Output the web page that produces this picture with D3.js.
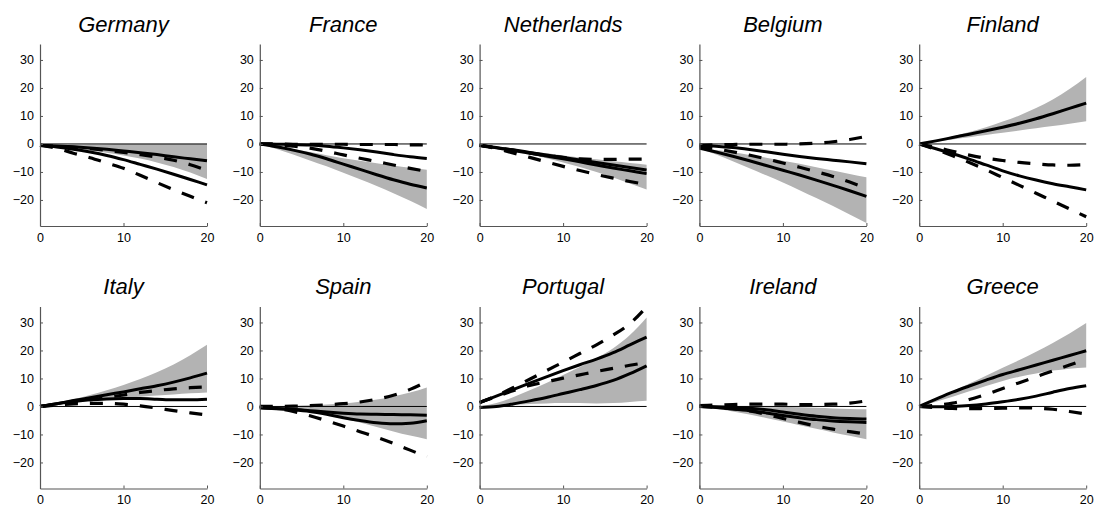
<!DOCTYPE html>
<html>
<head>
<meta charset="utf-8">
<script src="https://cdn.jsdelivr.net/npm/d3@7"></script>
<style>
  html, body { margin: 0; padding: 0; background: #fff; }
  svg { display: block; }
  text { font-family: "Liberation Sans", Arial, Helvetica, sans-serif; fill: #000; }
</style>
</head>
<body>
<svg id="chart" width="1096" height="508"></svg>
<script>
// Impulse responses by country, horizon 0..20 (sampled every 2 periods)
const countries = ["Germany", "France", "Netherlands", "Belgium", "Finland",
                   "Italy", "Spain", "Portugal", "Ireland", "Greece"];
const horizon = [0, 2, 4, 6, 8, 10, 12, 14, 16, 18, 20];
const xTicks = [0, 10, 20];
const yTicks = [-20, -10, 0, 10, 20, 30];

// Upper and lower edge of the shaded confidence band
const bandUpper = [
  [-0.5, -0.4, -0.3, -0.2, -0.1, 0, 0, 0, 0, 0, 0],
  [0, -0.8, -1.8, -2.9, -4, -5.1, -6, -6.9, -7.7, -8.5, -9.2],
  [-0.5, -1.1, -1.8, -2.6, -3.3, -4.1, -4.8, -5.5, -6.2, -6.8, -7.4],
  [-1.5, -2.2, -3, -3.9, -4.9, -6, -7.1, -8.3, -9.5, -10.7, -11.9],
  [0, 1.3, 2.7, 4.3, 6, 8, 10.2, 12.8, 15.9, 19.6, 23.9],
  [0, 1.2, 2.6, 4.1, 5.8, 7.7, 9.8, 12.2, 15, 18.3, 22],
  [0, 0.1, 0.2, 0.4, 0.7, 1.1, 1.7, 2.5, 3.6, 5, 6.8],
  [0, 1.2, 3.3, 5.8, 8.4, 11.2, 14.1, 17.2, 20.8, 25.5, 31.8],
  [0, -0.1, -0.2, -0.3, -0.3, -0.2, -0.3, -0.5, -0.7, -0.9, -1],
  [0, 2.6, 5.4, 8.2, 11, 13.8, 16.6, 19.5, 22.7, 26.1, 29.8]
];
const bandLower = [
  [-0.5, -1, -1.6, -2.3, -3.1, -4.1, -5.2, -6.6, -8.2, -10.2, -12.5],
  [0, -1.8, -3.8, -5.9, -8, -10.3, -12.6, -15, -17.6, -20.3, -23.2],
  [-0.5, -1.5, -2.6, -3.8, -5.1, -6.6, -8.2, -10, -12, -14.1, -16.3],
  [-1.5, -3.8, -6.2, -8.7, -11.2, -13.8, -16.5, -19.3, -22.2, -25.2, -28.2],
  [0, 0.8, 1.6, 2.4, 3.2, 4, 4.8, 5.6, 6.4, 7.2, 8.1],
  [0, 0.8, 1.5, 2.1, 2.6, 3.1, 3.5, 3.9, 4.3, 4.7, 5],
  [0, -0.4, -1, -1.9, -3, -4.3, -5.7, -7.3, -8.9, -10.4, -11.7],
  [0, 0.3, 0.6, 0.9, 1.1, 1.2, 1.2, 1.1, 1.2, 1.6, 2],
  [0, -0.8, -1.8, -2.9, -4.1, -5.4, -6.7, -8, -9.3, -10.5, -11.7],
  [0, 1.7, 3.5, 5.4, 7.3, 9.1, 10.6, 11.8, 12.8, 13.5, 13.9]
];

// Two solid responses per country
const solidFirst = [
  [-0.5, -0.7, -1, -1.4, -1.9, -2.5, -3.1, -3.8, -4.6, -5.3, -6],
  [0, -0.1, -0.2, -0.4, -0.8, -1.4, -2.1, -2.9, -3.8, -4.6, -5.2],
  [-0.5, -1.3, -2.1, -3, -3.9, -4.8, -5.7, -6.6, -7.5, -8.4, -9.3],
  [-0.5, -0.8, -1.3, -2, -2.8, -3.7, -4.5, -5.2, -5.8, -6.4, -7.1],
  [0, 1.1, 2.3, 3.5, 4.7, 6, 7.4, 9, 10.8, 12.7, 14.6],
  [0, 1, 2.1, 3.1, 4.2, 5.2, 6.3, 7.4, 8.7, 10.2, 11.9],
  [-0.5, -0.7, -1, -1.5, -2, -2.4, -2.7, -2.8, -2.9, -3, -3.1],
  [1.4, 3.7, 6, 8.3, 10.6, 12.8, 14.9, 16.9, 19.2, 22, 24.8],
  [0, -0.1, -0.3, -0.6, -1.2, -2, -2.8, -3.5, -4, -4.3, -4.5],
  [0, 2.6, 5.1, 7.3, 9.4, 11.4, 13.1, 14.8, 16.5, 18.2, 19.9]
];
const solidSecond = [
  [-0.5, -1.1, -1.9, -2.9, -4.1, -5.6, -7.3, -9, -10.8, -12.7, -14.6],
  [0, -1, -2.2, -3.6, -5.3, -7.2, -9.1, -11, -12.8, -14.4, -15.7],
  [-0.5, -1.4, -2.3, -3.3, -4.3, -5.3, -6.4, -7.5, -8.6, -9.6, -10.6],
  [-1.5, -2.9, -4.4, -6, -7.7, -9.4, -11.1, -12.9, -14.8, -16.7, -18.7],
  [0, -1.7, -3.5, -5.4, -7.5, -9.6, -11.4, -12.9, -14.2, -15.3, -16.4],
  [0, 1, 1.8, 2.4, 2.7, 2.8, 2.8, 2.6, 2.4, 2.4, 2.6],
  [-0.5, -0.8, -1.2, -1.8, -2.8, -4, -5, -5.8, -6.2, -6, -5.1],
  [-0.4, 0, 0.9, 2, 3.2, 4.6, 6, 7.5, 9.3, 11.7, 14.5],
  [0, -0.4, -0.9, -1.5, -2.3, -3.2, -4, -4.7, -5.2, -5.5, -5.7],
  [0, -0.1, 0, 0.3, 0.9, 1.7, 2.6, 3.7, 5.1, 6.4, 7.4]
];

// Two dashed responses per country
const dashedFirst = [
  [-0.5, -0.8, -1.2, -1.7, -2.3, -3, -3.8, -4.7, -5.8, -7.4, -9.4],
  [0, 0, -0.1, -0.1, -0.1, -0.1, -0.2, -0.2, -0.2, -0.3, -0.4],
  [-0.5, -1.3, -2.2, -3.2, -4.1, -4.8, -5.3, -5.5, -5.5, -5.4, -5.4],
  [-0.5, -0.3, -0.2, -0.1, -0.1, -0.1, 0, 0.3, 0.8, 1.6, 2.7],
  [0, -1.2, -2.6, -4, -5.1, -5.9, -6.6, -7.1, -7.5, -7.6, -7.4],
  [0, 0.6, 1.4, 2.3, 3.2, 4.1, 5, 5.7, 6.3, 6.7, 7],
  [0, 0, 0.1, 0.3, 0.6, 1, 1.6, 2.6, 4, 6.1, 8.9],
  [1.4, 3.8, 6.7, 9.7, 12.8, 15.8, 18.9, 22, 25.5, 29.6, 35.6],
  [0.3, 0.5, 0.7, 0.8, 0.8, 0.8, 0.7, 0.7, 0.8, 1.2, 2],
  [0, 0.4, 1.2, 2.5, 4.3, 6.4, 8.5, 10.6, 12.7, 14.8, 16.9]
];
const dashedSecond = [
  [-0.5, -1.5, -3.3, -4.9, -6.8, -8.7, -11.2, -13.8, -16.3, -18.7, -21],
  [0, -0.3, -0.8, -1.5, -2.6, -3.9, -5.1, -6.3, -7.5, -8.7, -9.8],
  [-0.5, -1.6, -3.2, -4.8, -6.4, -8, -9.5, -10.9, -12.2, -13.4, -14.5],
  [-1, -1.8, -2.8, -4, -5.3, -6.8, -8.3, -9.9, -11.6, -13.6, -15.8],
  [0, -2, -4.2, -6.6, -9.2, -12, -14.8, -17.6, -20.4, -23.2, -26],
  [0, 0.5, 0.9, 1.1, 1.1, 0.8, 0.2, -0.6, -1.5, -2.3, -3],
  [0, -0.7, -1.8, -3.3, -5.1, -7, -9, -11, -13.2, -15.6, -18],
  [1.4, 3.5, 5.6, 7.5, 8.8, 10.1, 11.3, 12.5, 13.6, 14.7, 15.7],
  [0, -0.3, -0.8, -1.6, -2.8, -4.3, -5.7, -7, -8.1, -9, -9.9],
  [0, -0.4, -0.7, -0.8, -0.7, -0.6, -0.5, -0.6, -1, -1.8, -2.7]
];

const svg = d3.select("#chart");

const panelW = 167, panelH = 182;
const colLeft = [40, 259.8, 479.6, 699.4, 919.2];
const rowTop = [44, 306.5];

const x = d3.scaleLinear().domain([0, 20]).range([0, panelW]);
const y = d3.scaleLinear().domain([-29.3, 35.7]).range([panelH, 0]);

const lineGen = d3.line()
  .x((d, i) => x(horizon[i]))
  .y(d => y(d))
  .curve(d3.curveMonotoneX);

const areaGen = d3.area()
  .x((d, i) => x(horizon[i]))
  .y0(d => y(d[0]))
  .y1(d => y(d[1]))
  .curve(d3.curveMonotoneX);

countries.forEach((name, k) => {
  const col = k % 5, row = Math.floor(k / 5);
  const g = svg.append("g")
    .attr("transform", `translate(${colLeft[col]},${rowTop[row]})`);

  // shaded band
  g.append("path")
    .attr("d", areaGen(horizon.map((h, i) => [bandLower[k][i], bandUpper[k][i]])))
    .attr("fill", "#b3b3b3")
    .attr("stroke", "none");

  // zero reference line
  g.append("line")
    .attr("x1", x(0)).attr("x2", x(20))
    .attr("y1", y(0)).attr("y2", y(0))
    .attr("stroke", "#000").attr("stroke-width", 1);

  [solidFirst[k], solidSecond[k]].forEach(series => {
    g.append("path")
      .attr("d", lineGen(series))
      .attr("fill", "none").attr("stroke", "#000")
      .attr("stroke-width", 3);
  });
  [dashedFirst[k], dashedSecond[k]].forEach(series => {
    g.append("path")
      .attr("d", lineGen(series))
      .attr("fill", "none").attr("stroke", "#000")
      .attr("stroke-width", 3.2)
      .attr("stroke-dasharray", "13,12");
  });

  // axes: left and bottom, ticks pointing inward
  const yAxis = d3.axisLeft(y).tickValues(yTicks).tickSizeInner(-3).tickSizeOuter(0)
    .tickPadding(6).tickFormat(d => d < 0 ? "\u2212" + Math.abs(d) : d);
  const ya = g.append("g").call(yAxis);
  const xAxis = d3.axisBottom(x).tickValues(xTicks).tickSizeInner(-3).tickSizeOuter(0)
    .tickPadding(7);
  const xa = g.append("g").attr("transform", `translate(0,${panelH})`).call(xAxis);

  [ya, xa].forEach(a => {
    a.select(".domain").attr("stroke", "#555").attr("stroke-width", 1.2);
    a.selectAll(".tick line").attr("stroke", "#555");
    a.selectAll(".tick text")
      .attr("font-size", 12.5)
      .attr("font-family", "'Liberation Sans', Arial, sans-serif")
      .attr("fill", "#000");
  });

  g.append("text")
    .attr("x", panelW / 2)
    .attr("y", -12.5)
    .attr("text-anchor", "middle")
    .attr("font-size", 22)
    .attr("font-style", "italic")
    .text(name);
});
</script>
</body>
</html>
